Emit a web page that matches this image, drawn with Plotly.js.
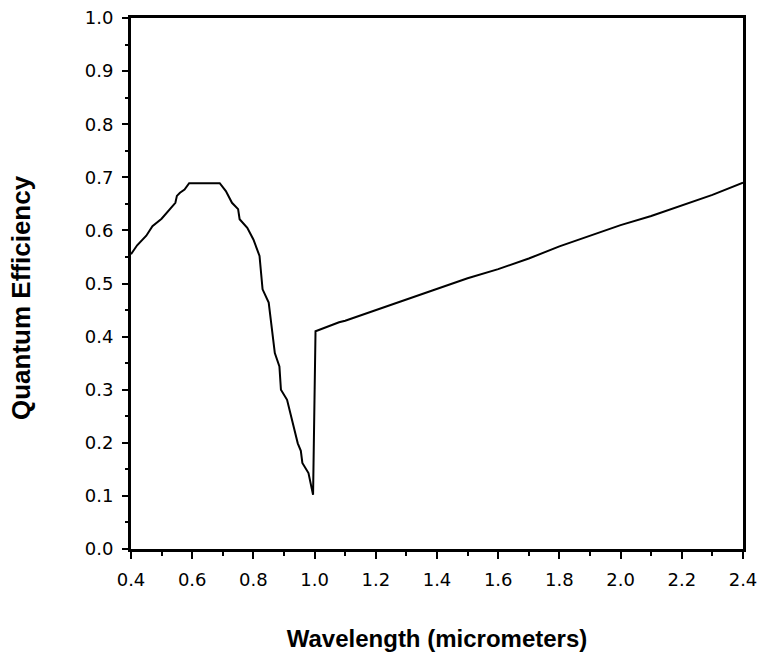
<!DOCTYPE html>
<html>
<head>
<meta charset="utf-8">
<script src="https://cdn.plot.ly/plotly-3.0.1.min.js"></script>
<style>html,body{margin:0;padding:0;background:#fff}#chart{width:762px;height:658px}</style>
</head>
<body>
<div id="chart"></div>
<script>
const wavelength = [0.40,0.42,0.45,0.47,0.50,0.52,0.535,0.545,0.55,0.56,0.575,0.59,0.60,0.65,0.69,0.71,0.73,0.75,0.755,0.78,0.80,0.82,0.825,0.83,0.85,0.86,0.87,0.885,0.89,0.91,0.93,0.945,0.955,0.96,0.98,0.995,1.003,1.03,1.08,1.10,1.20,1.30,1.40,1.50,1.60,1.70,1.80,1.90,2.00,2.10,2.20,2.30,2.40];
const efficiency = [0.555,0.572,0.590,0.608,0.622,0.635,0.646,0.652,0.665,0.671,0.677,0.689,0.689,0.689,0.689,0.674,0.652,0.640,0.621,0.605,0.583,0.552,0.520,0.489,0.464,0.419,0.369,0.344,0.300,0.281,0.237,0.199,0.185,0.162,0.143,0.102,0.410,0.416,0.427,0.430,0.450,0.470,0.490,0.510,0.527,0.547,0.570,0.590,0.610,0.627,0.647,0.667,0.690];
const xTickVals = [0.4,0.6,0.8,1.0,1.2,1.4,1.6,1.8,2.0,2.2,2.4];
const xTickText = ["0.4","0.6","0.8","1.0","1.2","1.4","1.6","1.8","2.0","2.2","2.4"];
const yTickVals = [0,0.1,0.2,0.3,0.4,0.5,0.6,0.7,0.8,0.9,1.0];
const yTickText = ["0.0","0.1","0.2","0.3","0.4","0.5","0.6","0.7","0.8","0.9","1.0"];

const trace = {x: wavelength, y: efficiency, type: 'scatter', mode: 'lines',
  line: {color: '#000', width: 2}, hoverinfo: 'none'};

const tickFont = {family: 'DejaVu Sans, Verdana, sans-serif', size: 18, color: '#000'};
const xTitleFont = {family: 'Liberation Sans, Arial, sans-serif', size: 24, color: '#000', weight: 'bold'};
const yTitleFont = {family: 'Liberation Sans, Arial, sans-serif', size: 26, color: '#000', weight: 'bold'};

const layout = {
  width: 762, height: 658,
  margin: {l: 131, r: 19, t: 18, b: 109},
  paper_bgcolor: '#fff', plot_bgcolor: '#fff',
  showlegend: false,
  xaxis: {
    range: [0.4, 2.4], tickvals: xTickVals, ticktext: xTickText,
    showline: true, linecolor: '#000', linewidth: 3, mirror: true,
    ticks: 'outside', ticklen: 7, tickwidth: 2, tickcolor: '#000', ticklabelstandoff: 5,
    minor: {dtick: 0.1, tick0: 0.4, ticks: 'outside', ticklen: 4, tickwidth: 2, tickcolor: '#000', showgrid: false},
    showgrid: false, zeroline: false, tickfont: tickFont,
    title: {text: '<b>Wavelength (micrometers)</b>', font: xTitleFont, standoff: 42}
  },
  yaxis: {
    range: [0, 1.0], tickvals: yTickVals, ticktext: yTickText,
    showline: true, linecolor: '#000', linewidth: 3, mirror: true,
    ticks: 'outside', ticklen: 6, tickwidth: 2, tickcolor: '#000', ticklabelstandoff: 5,
    minor: {dtick: 0.05, tick0: 0, ticks: 'outside', ticklen: 3, tickwidth: 2, tickcolor: '#000', showgrid: false},
    showgrid: false, zeroline: false, tickfont: tickFont,
    title: {text: '<b>Quantum Efficiency</b>&nbsp;&nbsp;&nbsp;&nbsp;', font: yTitleFont, standoff: 47}
  }
};

Plotly.newPlot('chart', [trace], layout, {displayModeBar: false, staticPlot: true});
</script>
</body>
</html>
